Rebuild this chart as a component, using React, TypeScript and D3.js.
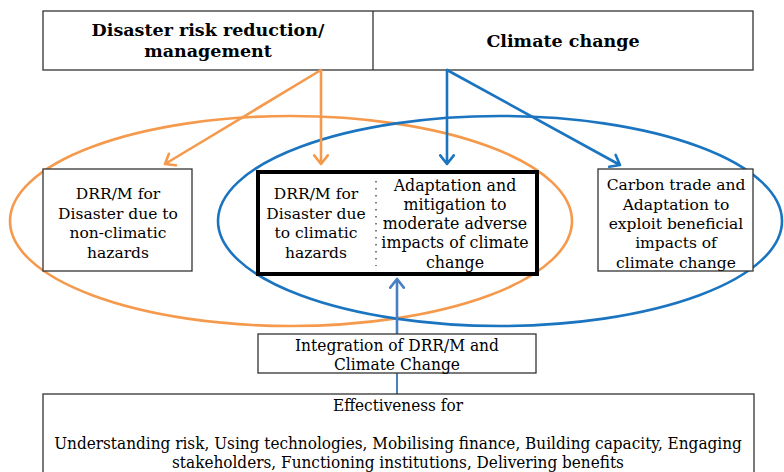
import React from "react";
import * as d3 from "d3";

// labels of the diagram
const drrTitle = ["Disaster risk reduction/", "management"];
const ccTitle = ["Climate change"];
const nonClimatic = ["DRR/M for", "Disaster due to", "non-climatic", "hazards"];
const climatic = ["DRR/M for", "Disaster due", "to climatic", "hazards"];
const adaptation = ["Adaptation and", "mitigation to", "moderate adverse", "impacts of climate", "change"];
const beneficial = ["Carbon trade and", "Adaptation to", "exploit beneficial", "impacts of", "climate change"];
const integration = ["Integration of DRR/M and", "Climate Change"];
const effectiveness = [
  "Effectiveness for",
  "",
  "Understanding risk, Using technologies, Mobilising finance, Building capacity, Engaging",
  "stakeholders, Functioning institutions, Delivering benefits",
];

const W = 784;
const H = 472;
const ORANGE = "#F59A4C";
const BLUE = "#1B74C0";
const LIGHT_BLUE = "#4A80C2";
const BODY_FONT = "'DejaVu Serif', serif";
const TITLE_FONT = "'DejaVu Serif', serif";

// straight arrow with an open chevron head
const arrow = (x1: number, y1: number, x2: number, y2: number, head = 11) => {
  const p = d3.path();
  p.moveTo(x1, y1);
  p.lineTo(x2, y2);
  const a = Math.atan2(y2 - y1, x2 - x1);
  const spread = (38 * Math.PI) / 180;
  p.moveTo(x2 - head * Math.cos(a - spread), y2 - head * Math.sin(a - spread));
  p.lineTo(x2, y2);
  p.lineTo(x2 - head * Math.cos(a + spread), y2 - head * Math.sin(a + spread));
  return p.toString();
};

const Lines: React.FC<{
  lines: string[];
  cx: number;
  y0: number;
  step: number;
  size: number;
  bold?: boolean;
  font?: string;
  stretch?: number;
}> = ({ lines, cx, y0, step, size, bold, font, stretch }) => (
  <g
    fontFamily={font || BODY_FONT}
    fontSize={size}
    fontWeight={bold ? "bold" : "normal"}
    textAnchor="middle"
    fill="#000"
    transform={stretch ? `translate(${cx},0) scale(${stretch},1) translate(${-cx},0)` : undefined}
  >
    {lines.map((t, i) => (
      <text key={i} x={cx} y={y0 + i * step} dy="0.35em">
        {t}
      </text>
    ))}
  </g>
);

const App: React.FC = () => {
  const boxStroke = "#333";
  return (
    <svg
      width={W}
      height={H}
      style={{ position: "absolute", left: 0, top: 0, background: "#fff" }}
    >
      {/* ellipses */}
      <ellipse cx={291} cy={221} rx={281} ry={105} fill="none" stroke={ORANGE} strokeWidth={2.6} />
      <ellipse cx={500} cy={221} rx={282} ry={105} fill="none" stroke={BLUE} strokeWidth={2.6} />

      {/* header box */}
      <rect x={43} y={11} width={710} height={59} fill="#fff" stroke={boxStroke} strokeWidth={1.3} />
      <line x1={373} y1={11} x2={373} y2={70} stroke={boxStroke} strokeWidth={1.3} />
      <Lines lines={drrTitle} cx={208} y0={30} step={21} size={17.5} bold font={TITLE_FONT} />
      <Lines lines={ccTitle} cx={563} y0={41} step={21} size={17.5} bold font={TITLE_FONT} />

      {/* arrows from headers */}
      <g fill="none" strokeWidth={2.6} strokeLinecap="round" strokeLinejoin="round">
        <path d={arrow(321, 70, 165, 164)} stroke={ORANGE} />
        <path d={arrow(321, 70, 321, 164)} stroke={ORANGE} />
        <path d={arrow(447, 70, 447, 164)} stroke={BLUE} />
        <path d={arrow(447, 70, 620, 165)} stroke={BLUE} />
      </g>

      {/* boxes */}
      <rect x={43} y={169} width={149} height={102} fill="#fff" stroke={boxStroke} strokeWidth={1.3} />
      <Lines lines={nonClimatic} cx={118} y0={194} step={19.5} size={15.5} />

      <rect x={258} y={172} width={279} height={102} fill="#fff" stroke="#000" strokeWidth={4} />
      <line
        x1={376}
        y1={181}
        x2={376}
        y2={266}
        stroke="#444"
        strokeWidth={1.4}
        strokeDasharray="1.5 5.5"
      />
      <Lines lines={climatic} cx={316} y0={194} step={19.5} size={15.5} />
      <Lines lines={adaptation} cx={455} y0={185} step={19.3} size={15.8} />

      <rect x={598} y={169} width={155} height={102} fill="#fff" stroke={boxStroke} strokeWidth={1.3} />
      <Lines lines={beneficial} cx={676} y0={185} step={19.3} size={15.5} />

      {/* integration */}
      <path
        d={arrow(397, 333, 397, 279)}
        fill="none"
        stroke={LIGHT_BLUE}
        strokeWidth={2.6}
        strokeLinecap="round"
        strokeLinejoin="round"
      />
      <line x1={397} y1={373} x2={397} y2={394} stroke={LIGHT_BLUE} strokeWidth={2} />
      <rect x={258} y={334} width={278} height={39} fill="#fff" stroke={boxStroke} strokeWidth={1.3} />
      <Lines lines={integration} cx={397} y0={345} step={19.5} size={17} stretch={0.91} />

      {/* effectiveness */}
      <rect x={43} y={394} width={711} height={100} fill="#fff" stroke={boxStroke} strokeWidth={1.3} />
      <Lines lines={effectiveness} cx={398} y0={405} step={18.9} size={17} stretch={0.9} />
    </svg>
  );
};

export default App;
